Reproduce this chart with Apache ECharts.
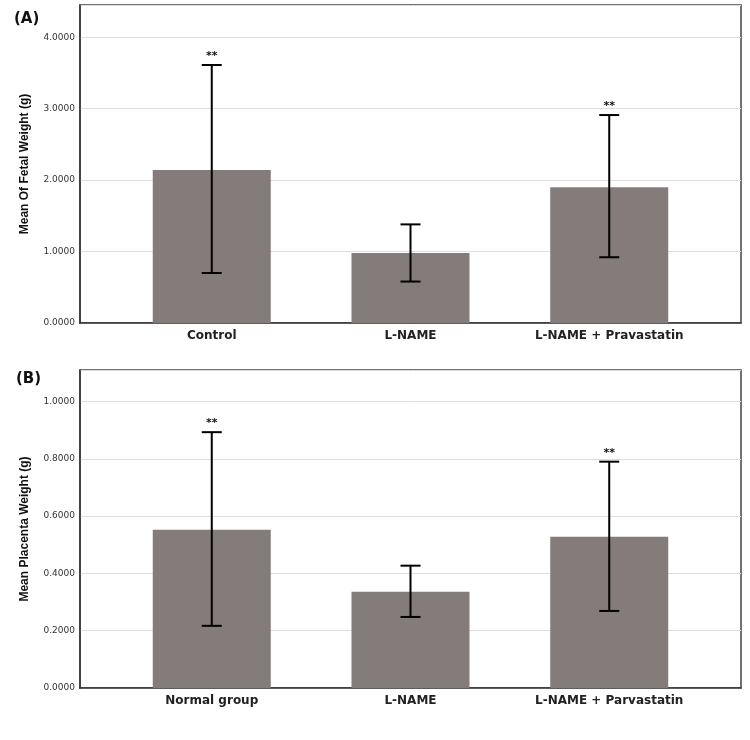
<!DOCTYPE html>
<html>
<head>
<meta charset="utf-8">
<script src="https://cdn.jsdelivr.net/npm/echarts@6/dist/echarts.min.js"></script>
<style>
  html, body { margin: 0; padding: 0; background: #fff; }
  #chart { width: 750px; height: 740px; }
</style>
</head>
<body>
<div id="chart"></div>
<script>
// (A) fetal weight
const fetalGroups = ['Control', 'L-NAME', 'L-NAME + Pravastatin'];
const fetalMean = [2.14, 0.98, 1.90];
const fetalLow = [0.70, 0.58, 0.92];
const fetalHigh = [3.61, 1.38, 2.91];
const fetalSig = ['**', '', '**'];

// (B) placenta weight
const placentaGroups = ['Normal group', 'L-NAME', 'L-NAME + Parvastatin'];
const placentaMean = [0.552, 0.336, 0.528];
const placentaLow = [0.217, 0.248, 0.269];
const placentaHigh = [0.893, 0.427, 0.790];
const placentaSig = ['**', '', '**'];

const barColor = '#837c7a';
const frameColor = '#444';

// error bar with caps, plus the significance stars above
function errorBar(params, api) {
  const x = api.value(0);
  const top = api.coord([x, api.value(2)]);
  const bot = api.coord([x, api.value(1)]);
  const sig = api.value(3);
  const cap = 10;
  const st = { stroke: '#000', lineWidth: 2 };
  const kids = [
    { type: 'line', shape: { x1: top[0], y1: top[1], x2: bot[0], y2: bot[1] }, style: st },
    { type: 'line', shape: { x1: top[0] - cap, y1: top[1], x2: top[0] + cap, y2: top[1] }, style: st },
    { type: 'line', shape: { x1: bot[0] - cap, y1: bot[1], x2: bot[0] + cap, y2: bot[1] }, style: st }
  ];
  if (sig) {
    kids.push({
      type: 'text',
      style: {
        text: sig, x: top[0], y: top[1] - 9,
        textAlign: 'center', textVerticalAlign: 'middle',
        font: 'bold 11px "DejaVu Sans"', fill: '#111'
      }
    });
  }
  return { type: 'group', children: kids };
}

function xAxisFor(idx, groups) {
  return {
    type: 'value', gridIndex: idx, min: -0.663, max: 2.663,
    splitLine: { show: false },
    axisTick: { show: false },
    axisLine: { show: true, onZero: false, lineStyle: { color: '#333', width: 1.5 } },
    axisLabel: {
      customValues: [0, 1, 2],
      formatter: v => groups[Math.round(v)] || '',
      margin: 7,
      fontFamily: 'DejaVu Sans', fontWeight: 'bold', fontSize: 12, color: '#222'
    }
  };
}

function yAxisFor(idx, max, interval, name) {
  return {
    type: 'value', gridIndex: idx, min: 0, max: max, interval: interval,
    name: name, nameLocation: 'middle', nameGap: 49,
    nameTextStyle: { fontFamily: 'Liberation Sans', fontWeight: 'bold', fontSize: 12, color: '#111' },
    axisLine: { show: true, onZero: false, lineStyle: { color: '#333', width: 1.5 } },
    axisTick: { show: false },
    splitLine: { show: true, lineStyle: { color: '#dddddd', width: 1 } },
    axisLabel: {
      showMaxLabel: false, margin: 5,
      formatter: v => v.toFixed(4),
      fontFamily: 'DejaVu Sans', fontSize: 9, color: '#333'
    }
  };
}

const chart = echarts.init(document.getElementById('chart'));
chart.setOption({
  backgroundColor: '#fff',
  animation: false,
  graphic: [
    { type: 'text', left: 14, top: 12, style: { text: '(A)', font: 'bold 15px "DejaVu Sans"', fill: '#111' } },
    { type: 'text', left: 16, top: 372, style: { text: '(B)', font: 'bold 15px "DejaVu Sans"', fill: '#111' } }
  ],
  grid: [
    { left: 80, right: 9, top: 5, height: 318, show: true, borderColor: frameColor, borderWidth: 1.5 },
    { left: 80, right: 9, top: 370, height: 318, show: true, borderColor: frameColor, borderWidth: 1.5 }
  ],
  xAxis: [xAxisFor(0, fetalGroups), xAxisFor(1, placentaGroups)],
  yAxis: [
    yAxisFor(0, 4.45, 1, 'Mean Of Fetal Weight (g)'),
    yAxisFor(1, 1.11, 0.2, 'Mean Placenta Weight (g)')
  ],
  series: [
    {
      type: 'bar', xAxisIndex: 0, yAxisIndex: 0, barWidth: 118,
      itemStyle: { color: barColor },
      data: fetalMean.map((v, i) => [i, v])
    },
    {
      type: 'custom', xAxisIndex: 0, yAxisIndex: 0, renderItem: errorBar, z: 5,
      data: fetalMean.map((v, i) => [i, fetalLow[i], fetalHigh[i], fetalSig[i]])
    },
    {
      type: 'bar', xAxisIndex: 1, yAxisIndex: 1, barWidth: 118,
      itemStyle: { color: barColor },
      data: placentaMean.map((v, i) => [i, v])
    },
    {
      type: 'custom', xAxisIndex: 1, yAxisIndex: 1, renderItem: errorBar, z: 5,
      data: placentaMean.map((v, i) => [i, placentaLow[i], placentaHigh[i], placentaSig[i]])
    }
  ]
});
</script>
</body>
</html>
